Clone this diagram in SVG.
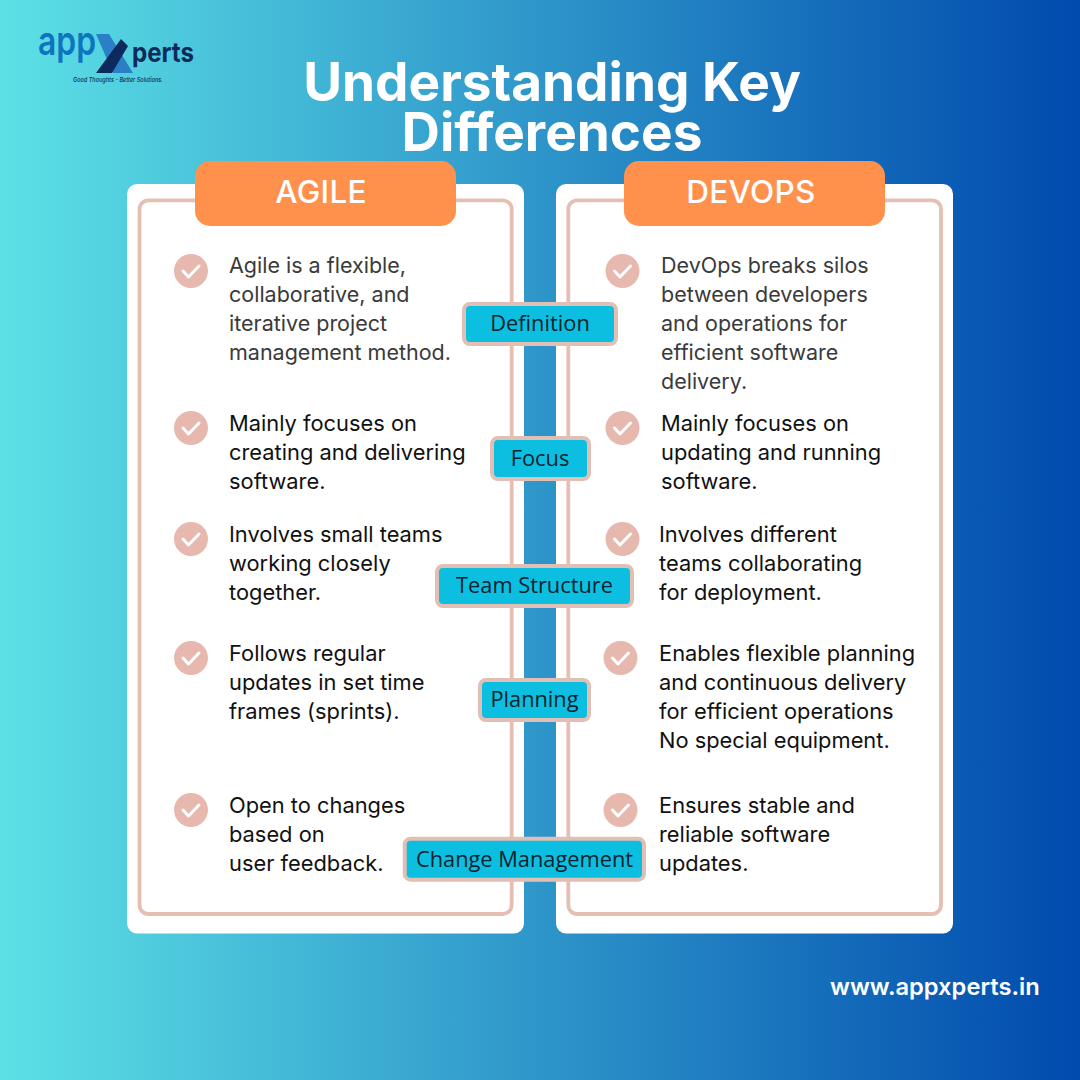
<svg xmlns="http://www.w3.org/2000/svg" width="1080" height="1080" viewBox="0 0 1080 1080">
<style>
.b{font-family:Inter,"Noto Sans",sans-serif;font-size:21.85px;fill:#111}
.g{fill:#3a3a3a;font-size:21.5px}
.h{font-family:Inter,"Open Sans",sans-serif;font-size:31.5px;font-weight:500;letter-spacing:.3px;fill:#fff;text-anchor:middle}
.l{font-family:"Open Sans","Noto Sans",sans-serif;font-size:21.8px;fill:#06222e;text-anchor:middle}
.t{font-family:Inter,"Open Sans",sans-serif;font-size:53.1px;font-weight:700;fill:#fff;text-anchor:middle}
.tag{fill:#0cbfe0;stroke:#e2bfb4;stroke-width:4}
.frame{fill:none;stroke:#e6bfb3;stroke-width:3.8}
.hd{fill:#ff914d}
.tick{fill:none;stroke:#fff;stroke-width:3;stroke-linecap:round;stroke-linejoin:round}
</style>
<defs>
<linearGradient id="bg" x1="0" y1="0" x2="1" y2="0"><stop offset="0" stop-color="#5ce1e6"/><stop offset="1" stop-color="#004aad"/></linearGradient>
<g id="chk"><circle r="17" fill="#e6b8ae"/><path class="tick" d="M-8 0l5.500 6 10.500-11"/></g>
</defs>
<rect width="1080" height="1080" fill="url(#bg)"/>
<g id="logo">
<text x="38" y="55" font-family="Inter,sans-serif" font-size="40" font-weight="600" fill="#0f74bf" textLength="58" lengthAdjust="spacingAndGlyphs">app</text>
<polygon points="96,34 109,34 133,73 113,73" fill="#2a7fc5"/>
<polygon points="96,73 121,39 128,46 112,73" fill="#0c2a5c"/>
<text x="132" y="62" font-family="Inter,sans-serif" font-size="27" font-weight="700" fill="#0c2a5c" textLength="62" lengthAdjust="spacingAndGlyphs">perts</text>
<text x="73" y="82" font-family="Inter,sans-serif" font-size="6.500" font-weight="500" font-style="italic" fill="#0c2a5c" textLength="90" lengthAdjust="spacingAndGlyphs">Good Thoughts - Better Solutions.</text>
</g>
<g id="title">
<text class="t" x="552" y="101">Understanding Key</text>
<text class="t" x="552" y="151">Differences</text>
</g>
<g id="agile">
<rect x="127" y="184" width="397" height="749.500" rx="10" fill="#fff"/>
<rect x="139.500" y="200.300" width="372.200" height="713.700" rx="9" class="frame"/>
<rect x="195" y="161" width="261" height="65" rx="15" class="hd"/>
<text class="h" x="321" y="203">AGILE</text>
<use href="#chk" x="191" y="271"/>
<text class="b g" x="229" y="273">Agile is a flexible,</text>
<text class="b g" x="229" y="302">collaborative, and</text>
<text class="b g" x="229" y="331">iterative project</text>
<text class="b g" x="229" y="360">management method.</text>
<use href="#chk" x="191" y="428"/>
<text class="b" x="229" y="431">Mainly focuses on</text>
<text class="b" x="229" y="460">creating and delivering</text>
<text class="b" x="229" y="489">software.</text>
<use href="#chk" x="191" y="539"/>
<text class="b" x="229" y="542">Involves small teams</text>
<text class="b" x="229" y="571">working closely</text>
<text class="b" x="229" y="600">together.</text>
<use href="#chk" x="191" y="658"/>
<text class="b" x="229" y="661">Follows regular</text>
<text class="b" x="229" y="690">updates in set time</text>
<text class="b" x="229" y="719">frames (sprints).</text>
<use href="#chk" x="191" y="810"/>
<text class="b" x="229" y="813">Open to changes</text>
<text class="b" x="229" y="842">based on</text>
<text class="b" x="229" y="871">user feedback.</text>
</g>
<g id="devops">
<rect x="556" y="184" width="397" height="749.500" rx="10" fill="#fff"/>
<rect x="568.300" y="200.300" width="372.700" height="713.700" rx="9" class="frame"/>
<rect x="624" y="161" width="261" height="65" rx="15" class="hd"/>
<text class="h" x="751" y="203">DEVOPS</text>
<use href="#chk" x="622.500" y="271"/>
<text class="b g" x="661" y="273">DevOps breaks silos</text>
<text class="b g" x="661" y="302">between developers</text>
<text class="b g" x="661" y="331">and operations for</text>
<text class="b g" x="661" y="360">efficient software</text>
<text class="b g" x="661" y="389">delivery.</text>
<use href="#chk" x="622.500" y="428"/>
<text class="b" x="661" y="431">Mainly focuses on</text>
<text class="b" x="661" y="460">updating and running</text>
<text class="b" x="661" y="489">software.</text>
<use href="#chk" x="622.500" y="539"/>
<text class="b" x="659" y="542">Involves different</text>
<text class="b" x="659" y="571">teams collaborating</text>
<text class="b" x="659" y="600">for deployment.</text>
<use href="#chk" x="620.500" y="658"/>
<text class="b" x="659" y="661">Enables flexible planning</text>
<text class="b" x="659" y="690">and continuous delivery</text>
<text class="b" x="659" y="719">for efficient operations</text>
<text class="b" x="659" y="748">No special equipment.</text>
<use href="#chk" x="620.500" y="810"/>
<text class="b" x="659" y="813">Ensures stable and</text>
<text class="b" x="659" y="842">reliable software</text>
<text class="b" x="659" y="871">updates.</text>
</g>
<g id="tag-definition"><rect class="tag" x="464" y="304" width="152" height="40" rx="6"/><text class="l" x="540" y="331">Definition</text></g>
<g id="tag-focus"><rect class="tag" x="492" y="438" width="97" height="41" rx="6"/><text class="l" x="540" y="466">Focus</text></g>
<g id="tag-team"><rect class="tag" x="437" y="566" width="195" height="40" rx="6"/><text class="l" x="534.500" y="593">Team Structure</text></g>
<g id="tag-planning"><rect class="tag" x="480" y="680" width="109" height="40" rx="6"/><text class="l" x="534.500" y="707">Planning</text></g>
<g id="tag-change"><rect class="tag" x="404.700" y="838.700" width="239.300" height="41" rx="6"/><text class="l" x="524.500" y="867">Change Management</text></g>
<text id="url" x="830" y="995" font-family="Inter,sans-serif" font-size="23.700" font-weight="600" fill="#fff">www.appxperts.in</text>
<g id="connectors"/>
</svg>
